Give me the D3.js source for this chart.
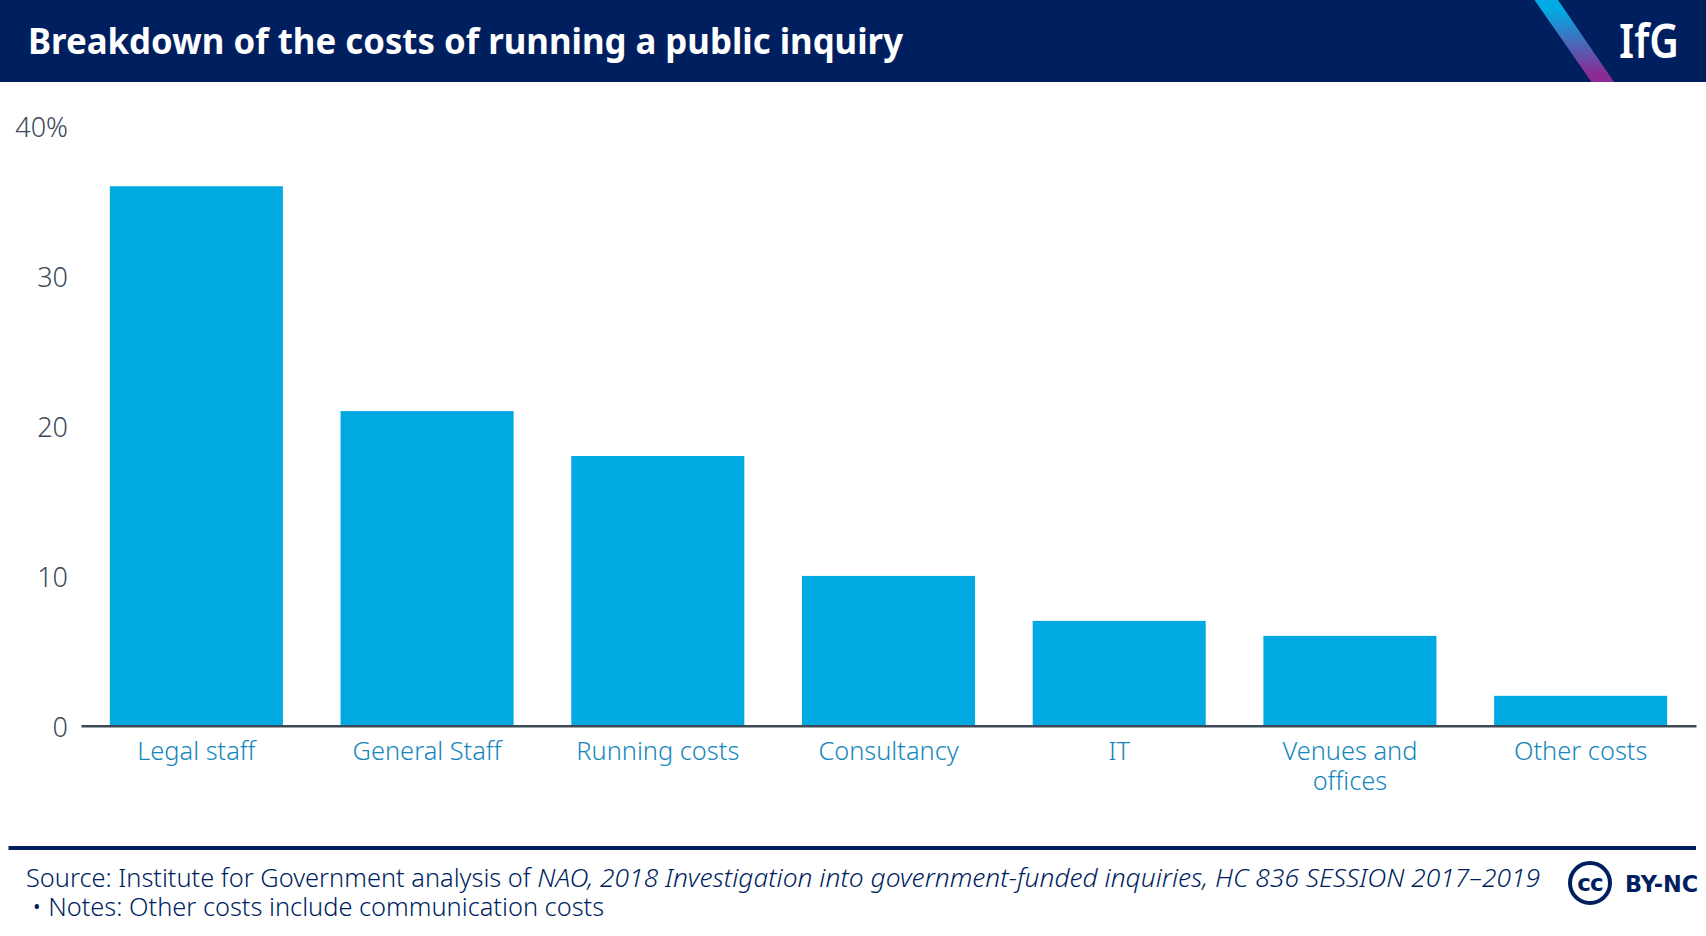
<!DOCTYPE html>
<html>
<head>
<meta charset="utf-8">
<script src="https://cdnjs.cloudflare.com/ajax/libs/d3/7.8.5/d3.min.js"></script>
<style>
  html, body { margin: 0; padding: 0; background: #fff; overflow: hidden; }
  text { font-family: "Noto Sans", sans-serif; }
</style>
</head>
<body>
<div id="chart"></div>
<script>
// Values
const categories = ["Legal staff", "General Staff", "Running costs", "Consultancy", "IT", "Venues and offices", "Other costs"];
const shares = [36, 21, 18, 10, 7, 6, 2];
const yTicks = [0, 10, 20, 30, 40];
const title = "Breakdown of the costs of running a public inquiry";

const navy = "#001f5f", blue = "#00a9e2", grey = "#3c4a58", labelBlue = "#1586bd";

const width = 1706, height = 936;
const margin = { top: 126.3, right: 10, bottom: 210.2, left: 81 };

const svg = d3.select("#chart")
  .append("svg")
    .attr("width", width)
    .attr("height", height)
    .style("display", "block");

// Header band
svg.append("rect").attr("width", width).attr("height", 82).attr("fill", navy);
svg.append("text")
  .attr("x", 28).attr("y", 54)
  .attr("font-size", 36).attr("font-weight", 700).attr("fill", "#fff")
  .attr("textLength", 875).attr("lengthAdjust", "spacingAndGlyphs")
  .text(title);

// IfG logo stripe
const grad = svg.append("defs").append("linearGradient")
  .attr("id", "stripe").attr("x1", 0).attr("y1", 0).attr("x2", 0).attr("y2", 1);
grad.append("stop").attr("offset", "12%").attr("stop-color", "#00abe3");
grad.append("stop").attr("offset", "90%").attr("stop-color", "#8b2c92");
svg.append("path")
  .attr("d", "M1534.5,0L1558,0L1614,82L1591.5,82Z")
  .attr("fill", "url(#stripe)");
svg.append("text")
  .attr("x", 1619).attr("y", 58)
  .attr("font-size", 47).attr("font-weight", 600).attr("fill", "#fff")
  .attr("textLength", 60).attr("lengthAdjust", "spacingAndGlyphs")
  .text("IfG");

// Scales
const x = d3.scaleBand()
  .domain(categories)
  .range([margin.left, width - margin.right])
  .paddingInner(0.25)
  .paddingOuter(0.125);
const y = d3.scaleLinear()
  .domain([0, 40])
  .range([height - margin.bottom, margin.top]);

// Bars
svg.selectAll("rect.bar")
  .data(categories)
  .join("rect")
    .attr("class", "bar")
    .attr("x", d => x(d))
    .attr("y", (d, i) => y(shares[i]))
    .attr("width", x.bandwidth())
    .attr("height", (d, i) => y(0) - y(shares[i]))
    .attr("fill", blue);

// Y axis
const yAxis = svg.append("g")
  .attr("transform", `translate(${margin.left},0)`)
  .call(d3.axisLeft(y).tickValues(yTicks).tickSize(0).tickPadding(13)
    .tickFormat(d => d === 40 ? d + "%" : d));
yAxis.select(".domain").remove();
yAxis.selectAll("text")
  .attr("font-size", 27).attr("font-weight", 300).attr("fill", grey)
  .attr("dy", "0.38em")
  .style("font-family", '"Noto Sans", sans-serif');

// X axis
const xAxis = svg.append("g")
  .attr("transform", `translate(0,${y(0)})`)
  .call(d3.axisBottom(x).tickSize(0).tickPadding(0));
xAxis.select(".domain").attr("stroke", grey).attr("stroke-width", 2.5);
xAxis.selectAll(".tick text").each(function (d) {
  const t = d3.select(this).text("")
    .attr("font-size", 25.4).attr("font-weight", 300).attr("fill", labelBlue)
    .style("font-family", '"Noto Sans", sans-serif');
  const lines = d === "Venues and offices" ? ["Venues and", "offices"] : [d];
  lines.forEach((l, i) => {
    t.append("tspan").attr("x", 0).attr("y", 34 + i * 30.5).attr("dy", 0).text(l);
  });
});

// Footer
svg.append("rect").attr("x", 8.5).attr("y", 846).attr("width", 1687.5).attr("height", 4).attr("fill", navy);
const source = svg.append("text").attr("x", 26).attr("y", 887)
  .attr("font-weight", 300).attr("fill", navy);
source.append("tspan").attr("font-size", 25.4).text("Source: Institute for Government analysis of ");
source.append("tspan").attr("font-size", 26.35).attr("font-style", "italic")
  .text("NAO, 2018 Investigation into government-funded inquiries, HC 836 SESSION 2017\u20132019");
svg.append("text").attr("x", 32).attr("y", 916)
  .attr("font-size", 25.4).attr("font-weight", 300).attr("fill", navy)
  .text("\u2022 Notes: Other costs include communication costs");

// CC BY-NC badge
svg.append("circle").attr("cx", 1590).attr("cy", 883).attr("r", 20)
  .attr("fill", "none").attr("stroke", navy).attr("stroke-width", 4);
svg.append("text").attr("x", 1590).attr("y", 891).attr("text-anchor", "middle")
  .attr("font-size", 23).attr("font-weight", 800).attr("fill", navy)
  .style("font-family", '"DejaVu Sans", sans-serif').attr("letter-spacing", -1)
  .text("cc");
svg.append("text").attr("x", 1625).attr("y", 892)
  .attr("font-size", 22.4).attr("font-weight", 700).attr("fill", navy)
  .style("font-family", '"DejaVu Sans", sans-serif')
  .text("BY-NC");
</script>
</body>
</html>
